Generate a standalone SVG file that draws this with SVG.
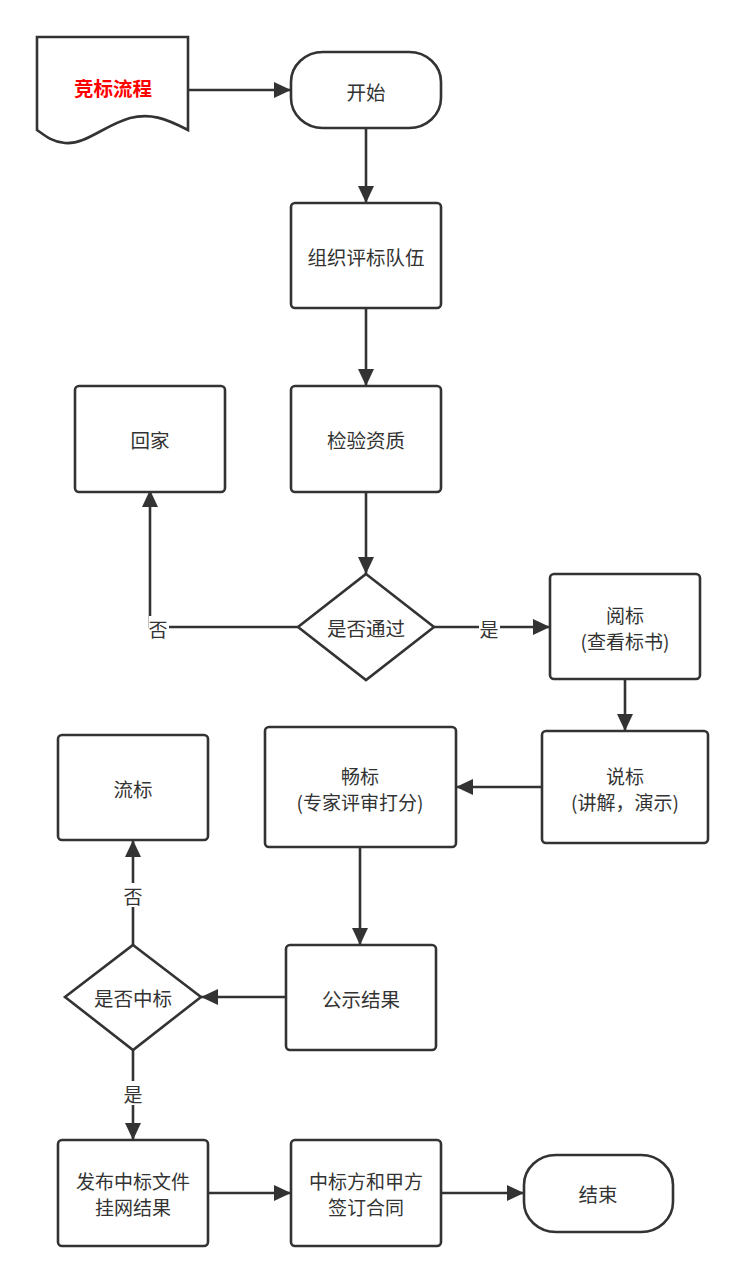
<svg xmlns="http://www.w3.org/2000/svg" width="746" height="1283" viewBox="0 0 746 1283">
<style>
.n{fill:#fff;stroke:#333;stroke-width:2.6}
.t{font-family:"Noto Sans CJK SC","Liberation Sans",sans-serif;font-size:19.5px;fill:#333;text-anchor:middle;dominant-baseline:central}
.t2{font-family:"Noto Sans CJK SC","Liberation Sans",sans-serif;font-size:19px;fill:#333;text-anchor:middle;dominant-baseline:central}
.l{font-family:"Noto Sans CJK SC","Liberation Sans",sans-serif;font-size:19px;fill:#333;text-anchor:middle;dominant-baseline:central}
.c{fill:none;stroke:#333;stroke-width:2.6}
.bg{fill:#fff}
</style>
<defs>
<marker id="ah" markerUnits="userSpaceOnUse" markerWidth="18" markerHeight="16" refX="17" refY="8" orient="auto">
<path d="M0,0 L17,8 L0,16 Z" fill="#333"/>
</marker>
</defs>
<rect width="746" height="1283" fill="#fff"/>
<g id="connectors">
<path class="c" d="M188,90 H291" marker-end="url(#ah)"/>
<path class="c" d="M366,128 V203" marker-end="url(#ah)"/>
<path class="c" d="M366,308 V386" marker-end="url(#ah)"/>
<path class="c" d="M366,492 V574" marker-end="url(#ah)"/>
<path class="c" d="M298,627 H150 V490" marker-end="url(#ah)"/>
<path class="c" d="M434,627 H550" marker-end="url(#ah)"/>
<path class="c" d="M625,679 V731" marker-end="url(#ah)"/>
<path class="c" d="M542,787 H456" marker-end="url(#ah)"/>
<path class="c" d="M360,847 V945" marker-end="url(#ah)"/>
<path class="c" d="M286,997 H201" marker-end="url(#ah)"/>
<path class="c" d="M133,945 V840" marker-end="url(#ah)"/>
<path class="c" d="M133,1050 V1140" marker-end="url(#ah)"/>
<path class="c" d="M208,1193 H291" marker-end="url(#ah)"/>
<path class="c" d="M441,1193 H524" marker-end="url(#ah)"/>
<rect class="bg" x="149" y="616" width="20" height="24"/>
<text class="l" x="158" y="628">否</text>
<rect class="bg" x="479" y="616" width="21" height="24"/>
<text class="l" x="489" y="628">是</text>
<rect class="bg" x="123" y="883" width="20" height="24"/>
<text class="l" x="133" y="895">否</text>
<rect class="bg" x="123" y="1081" width="20" height="24"/>
<text class="l" x="133" y="1093">是</text>
</g>
<g id="doc">
<path class="n" d="M37,37 H188 V130 C165,118 150,113 130,118 C105,125 85,145 65,143 C52,142 44,135 37,130 Z"/>
<text class="t" x="113" y="87" style="fill:#ff0000;font-weight:bold">竞标流程</text>
</g>
<g id="start">
<rect class="n" x="291" y="52" width="150" height="76" rx="32" ry="30"/>
<text class="t" x="366" y="91">开始</text>
</g>
<g id="team">
<rect class="n" x="291" y="203" width="150" height="105" rx="4"/>
<text class="t" x="366" y="256">组织评标队伍</text>
</g>
<g id="check">
<rect class="n" x="291" y="386" width="150" height="106" rx="4"/>
<text class="t" x="366" y="439">检验资质</text>
</g>
<g id="home">
<rect class="n" x="75" y="386" width="150" height="106" rx="4"/>
<text class="t" x="150" y="439">回家</text>
</g>
<g id="pass">
<path class="n" d="M366,574 L434,627 L366,680 L298,627 Z"/>
<text class="t" x="366" y="627">是否通过</text>
</g>
<g id="read">
<rect class="n" x="550" y="574" width="150" height="105" rx="4"/>
<text class="t2" x="625" y="614">阅标</text>
<text class="t2" x="625" y="640">(查看标书)</text>
</g>
<g id="explain">
<rect class="n" x="542" y="731" width="166" height="112" rx="4"/>
<text class="t2" x="625" y="775">说标</text>
<text class="t2" x="625" y="801">(讲解，演示)</text>
</g>
<g id="free">
<rect class="n" x="265" y="727" width="191" height="120" rx="4"/>
<text class="t2" x="360" y="775">畅标</text>
<text class="t2" x="360" y="801">(专家评审打分)</text>
</g>
<g id="publish">
<rect class="n" x="286" y="945" width="150" height="105" rx="4"/>
<text class="t" x="361" y="998">公示结果</text>
</g>
<g id="win">
<path class="n" d="M133,945 L201,997 L133,1050 L65,997 Z"/>
<text class="t" x="133" y="997">是否中标</text>
</g>
<g id="fail">
<rect class="n" x="58" y="735" width="150" height="105" rx="4"/>
<text class="t" x="133" y="788">流标</text>
</g>
<g id="release">
<rect class="n" x="58" y="1140" width="150" height="106" rx="4"/>
<text class="t2" x="133" y="1180">发布中标文件</text>
<text class="t2" x="133" y="1206">挂网结果</text>
</g>
<g id="contract">
<rect class="n" x="291" y="1140" width="150" height="106" rx="4"/>
<text class="t2" x="366" y="1180">中标方和甲方</text>
<text class="t2" x="366" y="1206">签订合同</text>
</g>
<g id="end">
<rect class="n" x="524" y="1155" width="149" height="77" rx="32" ry="30"/>
<text class="t" x="598" y="1193">结束</text>
</g>
</svg>
